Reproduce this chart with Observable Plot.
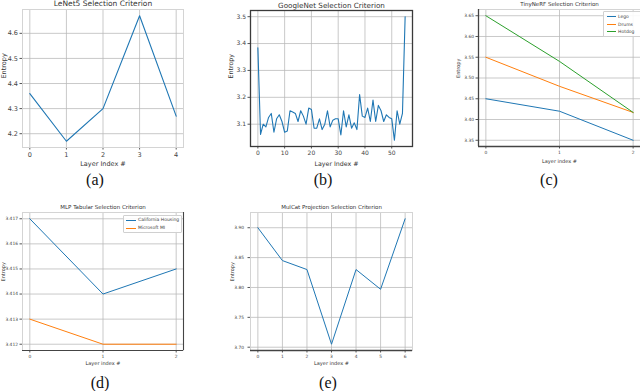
<!DOCTYPE html>
<html><head><meta charset="utf-8">
<script src="https://cdn.jsdelivr.net/npm/d3@7"></script>
<script src="https://cdn.jsdelivr.net/npm/@observablehq/plot@0.6"></script>
<style>
html,body{margin:0;padding:0;background:#fff;}
#wrap{position:relative;width:640px;height:391px;overflow:hidden;background:#fff;}
#wrap svg{position:absolute;left:0;top:0;}
.cap{position:absolute;font-family:"Liberation Serif","Times New Roman",serif;font-size:16px;color:#111;transform:translate(-50%,-50%);white-space:nowrap;}
.legend{position:absolute;box-sizing:border-box;border:1px solid #d0d0d0;border-radius:1px;background:rgba(255,255,255,0.9);font-family:"DejaVu Sans",sans-serif;color:#444;}
.legend .sw{position:absolute;height:0;border-top:1.2px solid;}
.legend .lb{position:absolute;white-space:nowrap;line-height:1;}
</style></head><body><div id="wrap"></div>
<script>
// ---------- data ----------
const lenetLayers = [0, 1, 2, 3, 4];
const lenetEntropy = [4.36, 4.17, 4.30, 4.67, 4.27];

const googlenetEntropy = [3.384, 3.062, 3.10, 3.09, 3.125, 3.14, 3.07, 3.12, 3.135, 3.11,
  3.07, 3.075, 3.15, 3.145, 3.14, 3.11, 3.15, 3.13, 3.10, 3.16,
  3.155, 3.085, 3.085, 3.12, 3.08, 3.10, 3.15, 3.09, 3.115, 3.12,
  3.12, 3.06, 3.15, 3.09, 3.135, 3.085, 3.105, 3.08, 3.21, 3.13,
  3.125, 3.16, 3.11, 3.19, 3.11, 3.17, 3.15, 3.11, 3.135, 3.125,
  3.12, 3.04, 3.15, 3.10, 3.14, 3.50];
const googlenetLayers = googlenetEntropy.map((_, i) => i);

const tinynerfLayers = [0, 1, 2];
const tinynerfScenes = ["Lego", "Drums", "Hotdog"];
const legoEntropy = [3.45, 3.42, 3.35];
const drumsEntropy = [3.55, 3.48, 3.417];
const hotdogEntropy = [3.65, 3.54, 3.417];

const mlpLayers = [0, 1, 2];
const mlpDatasets = ["California Housing", "Microsoft MI"];
const californiaEntropy = [3.417, 3.414, 3.415];
const microsoftEntropy = [3.413, 3.412, 3.412];

const mulcatLayers = [0, 1, 2, 3, 4, 5, 6];
const mulcatEntropy = [3.90, 3.845, 3.83, 3.705, 3.83, 3.797, 3.915];

const titles = ["LeNet5 Selection Criterion", "GoogleNet Selection Criterion",
  "TinyNeRF Selection Criterion", "MLP Tabular Selection Criterion",
  "MulCat Projection Selection Criterion"];
const captions = ["(a)", "(b)", "(c)", "(d)", "(e)"];
const colors = ["#1f77b4", "#ff7f0e", "#2ca02c"];

// ---------- helpers ----------
const wrap = document.getElementById("wrap");

function panel(c) {
  const [L, T, R, B] = c.box;
  const W = 640, H = 391;
  const pad = c.tickPadding ?? 2;
  const marks = [
    Plot.gridX(c.xTicks, {stroke: "#b8b8b8", strokeOpacity: 0.85, strokeWidth: 0.9}),
    Plot.gridY(c.yTicks, {stroke: "#b8b8b8", strokeOpacity: 0.85, strokeWidth: 0.9}),
    Plot.axisX(c.xTicks, {tickSize: 2.5, tickPadding: 2, fontSize: c.tickFont, label: null, stroke: "#555", fill: "#444", tickFormat: d => String(d)}),
    Plot.axisY(c.yTicks, {tickSize: 2.5, tickPadding: pad, fontSize: c.tickFont, label: null, stroke: "#555", fill: "#444", tickFormat: d3.format(c.yFormat)}),
    Plot.frame({stroke: c.frameLight || "#d4d4d4", strokeWidth: c.frameWidth || 1})
  ];
  const darkStroke = {stroke: c.frameDark || "#444", strokeWidth: c.darkWidth || 1.3};
  (c.dark || []).forEach(side => {
    if (side === "left") marks.push(Plot.ruleX([c.xDomain[0]], darkStroke));
    if (side === "right") marks.push(Plot.ruleX([c.xDomain[1]], darkStroke));
    if (side === "bottom") marks.push(Plot.ruleY([c.yDomain[0]], darkStroke));
    if (side === "top") marks.push(Plot.ruleY([c.yDomain[1]], darkStroke));
  });
  c.series.forEach(s => {
    marks.push(Plot.line(s.x.map((x, i) => ({x, y: s.y[i]})), {x: "x", y: "y", stroke: s.color, strokeWidth: c.lineWidth || 1.1}));
  });
  marks.push(
    Plot.text([c.title], {frameAnchor: "top", dy: c.titleY - T, lineAnchor: "middle", fontSize: c.titleFont, fill: "#333", dx: c.titleDx || 0}),
    Plot.text([c.xLabel], {frameAnchor: "bottom", dy: c.xLabelY - B, lineAnchor: "middle", fontSize: c.labelFont, fill: "#333", dx: c.xLabelDx || 0}),
    Plot.text(["Entropy"], {frameAnchor: "left", dx: c.yLabelX - L, rotate: -90, lineAnchor: "middle", fontSize: c.labelFont, fill: "#333", dy: c.yLabelDy || 0})
  );
  const svg = Plot.plot({
    width: W, height: H,
    marginLeft: L, marginTop: T, marginRight: W - R, marginBottom: H - B,
    style: {background: "transparent", fontFamily: "DejaVu Sans, sans-serif", overflow: "visible", maxWidth: "none"},
    x: {domain: c.xDomain},
    y: {domain: c.yDomain},
    marks
  });
  wrap.appendChild(svg);
}

function legend(box, names, cols, rowsY, swX, txtX, font) {
  const [x0, y0, x1, y1] = box;
  const d = document.createElement("div");
  d.className = "legend";
  Object.assign(d.style, {left: x0 + "px", top: y0 + "px", width: (x1 - x0) + "px", height: (y1 - y0) + "px"});
  names.forEach((n, i) => {
    const sw = document.createElement("div");
    sw.className = "sw";
    Object.assign(sw.style, {left: (swX[0] - x0) + "px", width: (swX[1] - swX[0]) + "px", top: (rowsY[i] - y0 - 1) + "px", borderTopColor: cols[i]});
    const lb = document.createElement("div");
    lb.className = "lb";
    lb.textContent = n;
    Object.assign(lb.style, {left: (txtX - x0) + "px", top: (rowsY[i] - y0 - font * 0.55) + "px", fontSize: font + "px"});
    d.appendChild(sw); d.appendChild(lb);
  });
  wrap.appendChild(d);
}

// ---------- panels ----------
panel({
  box: [22, 9, 183, 147], xDomain: [-0.2, 4.2], yDomain: [4.145, 4.695],
  xTicks: lenetLayers, yTicks: [4.2, 4.3, 4.4, 4.5, 4.6], yFormat: ".1f",
  series: [{x: lenetLayers, y: lenetEntropy, color: colors[0]}],
  title: titles[0], titleY: 3, xLabel: "Layer Index #", xLabelY: 163, yLabelX: 3,
  titleFont: 7.5, tickFont: 6.5, labelFont: 6.5
});

panel({
  box: [250, 10, 412, 146], xDomain: [-2.75, 57.75], yDomain: [3.017, 3.523],
  xTicks: [0, 10, 20, 30, 40, 50], yTicks: [3.1, 3.2, 3.3, 3.4, 3.5], yFormat: ".1f",
  series: [{x: googlenetLayers, y: googlenetEntropy, color: colors[0]}],
  title: titles[1], titleY: 5, xLabel: "Layer Index #", xLabelY: 163, xLabelDx: 5, yLabelX: 230,
  titleFont: 7.2, tickFont: 6, labelFont: 6.3,
  frameLight: "#3a3a3a", frameWidth: 1.3, dark: []
});

panel({
  box: [478, 9, 640, 146], xDomain: [-0.1, 2.1], yDomain: [3.335, 3.665],
  xTicks: tinynerfLayers, yTicks: [3.35, 3.40, 3.45, 3.50, 3.55, 3.60, 3.65], yFormat: ".2f",
  series: [
    {x: tinynerfLayers, y: legoEntropy, color: colors[0]},
    {x: tinynerfLayers, y: drumsEntropy, color: colors[1]},
    {x: tinynerfLayers, y: hotdogEntropy, color: colors[2]}
  ],
  title: titles[2], titleY: 4, xLabel: "Layer index #", xLabelY: 161, yLabelX: 458,
  titleFont: 5.5, tickFont: 4.4, labelFont: 5, lineWidth: 1,
  dark: ["left", "bottom"]
});

panel({
  box: [22, 212, 183, 350], xDomain: [-0.1, 2.1], yDomain: [3.41175, 3.41725],
  xTicks: mlpLayers, yTicks: [3.412, 3.413, 3.414, 3.415, 3.416, 3.417], yFormat: ".3f",
  series: [
    {x: mlpLayers, y: californiaEntropy, color: colors[0]},
    {x: mlpLayers, y: microsoftEntropy, color: colors[1]}
  ],
  title: titles[3], titleY: 207, xLabel: "Layer index #", xLabelY: 363, yLabelX: 3,
  titleFont: 5.5, tickFont: 4.4, labelFont: 5, lineWidth: 1,
  dark: ["bottom", "right"], darkWidth: 1.1
});

panel({
  box: [250, 212, 412, 350], xDomain: [-0.3, 6.3], yDomain: [3.6945, 3.9255],
  xTicks: mulcatLayers, yTicks: [3.70, 3.75, 3.80, 3.85, 3.90], yFormat: ".2f",
  series: [{x: mulcatLayers, y: mulcatEntropy, color: colors[0]}],
  title: titles[4], titleY: 207, xLabel: "Layer index #", xLabelY: 363, yLabelX: 232,
  titleFont: 5.5, tickFont: 4.4, labelFont: 5, lineWidth: 1, tickPadding: 4,
  dark: ["bottom"], darkWidth: 1.6
});

legend([603, 11, 641, 37], tinynerfScenes, colors, [16, 24, 31], [606, 615], 617, 4.5);
legend([123, 215, 182, 233], mlpDatasets, colors, [219.5, 227.5], [125, 135], 137, 4.5);

// ---------- captions ----------
const capPos = [[95, 180], [323, 180], [549, 180], [100, 383], [328, 383]];
captions.forEach((t, i) => {
  const d = document.createElement("div");
  d.className = "cap";
  d.textContent = t;
  d.style.left = capPos[i][0] + "px";
  d.style.top = capPos[i][1] + "px";
  wrap.appendChild(d);
});
</script></body></html>
